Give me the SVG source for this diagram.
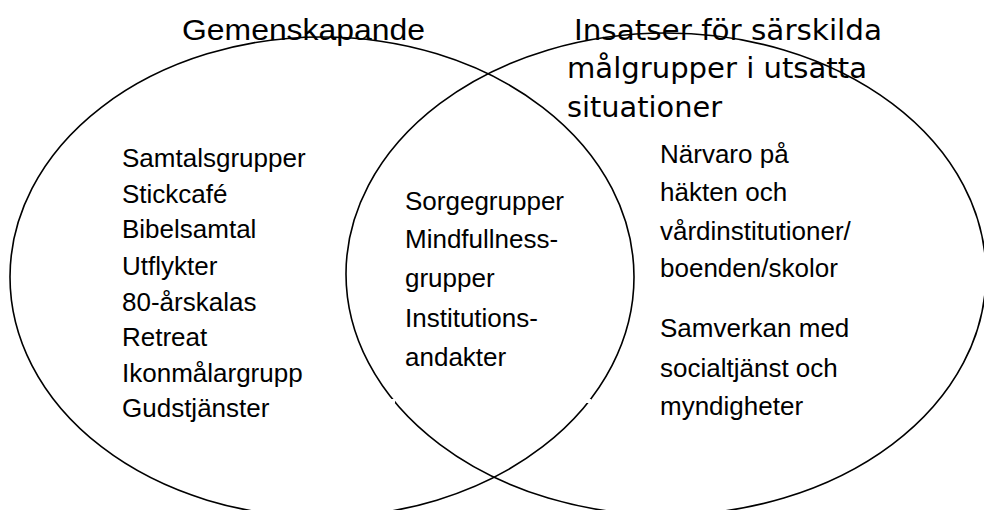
<svg xmlns="http://www.w3.org/2000/svg" width="984" height="510" viewBox="0 0 984 510">
<style>
.ring{fill:none;stroke:#000;stroke-width:1.6}
.t{font-family:"Liberation Sans",Arial,sans-serif;font-size:26px;fill:#000}
.h1{font-family:"Liberation Sans",Arial,sans-serif;font-size:30px;fill:#000}
.h2{font-family:"DejaVu Sans",Verdana,sans-serif;font-size:28px;fill:#000}
.gap{fill:#fff}
</style>
<rect width="984" height="510" fill="#fff"/>
<g id="connectors">
<ellipse id="left-circle" class="ring" cx="322" cy="277" rx="312" ry="240"/>
<ellipse id="right-circle" class="ring" cx="666" cy="274" rx="320" ry="241"/>
<rect class="gap" x="384" y="399" width="11" height="4"/>
<rect class="gap" x="583" y="399" width="8" height="4"/>
<rect class="gap" x="896" y="443" width="7" height="3"/>
</g>
<g id="title-left">
<text class="h1" x="182" y="40" textLength="243" lengthAdjust="spacingAndGlyphs">Gemenskapande</text>
</g>
<g id="title-right">
<text class="h2" x="574" y="40" textLength="308" lengthAdjust="spacingAndGlyphs">Insatser för särskilda</text>
<text class="h2" x="567" y="78" textLength="300" lengthAdjust="spacingAndGlyphs">målgrupper i utsatta</text>
<text class="h2" x="567" y="117" textLength="155" lengthAdjust="spacingAndGlyphs">situationer</text>
</g>
<g id="left-items">
<text class="t" x="122" y="167">Samtalsgrupper</text>
<text class="t" x="122" y="203">Stickcafé</text>
<text class="t" x="122" y="238">Bibelsamtal</text>
<text class="t" x="122" y="275">Utflykter</text>
<text class="t" x="122" y="311">80-årskalas</text>
<text class="t" x="122" y="346">Retreat</text>
<text class="t" x="122" y="382">Ikonmålargrupp</text>
<text class="t" x="122" y="417">Gudstjänster</text>
</g>
<g id="middle-items">
<text class="t" x="405" y="210">Sorgegrupper</text>
<text class="t" x="405" y="248">Mindfullness-</text>
<text class="t" x="405" y="287">grupper</text>
<text class="t" x="405" y="327">Institutions-</text>
<text class="t" x="405" y="366">andakter</text>
</g>
<g id="right-items">
<text class="t" x="660" y="163">Närvaro på</text>
<text class="t" x="660" y="201">häkten och</text>
<text class="t" x="660" y="240">vårdinstitutioner/</text>
<text class="t" x="660" y="277">boenden/skolor</text>
<text class="t" x="660" y="337">Samverkan med</text>
<text class="t" x="660" y="377">socialtjänst och</text>
<text class="t" x="660" y="415">myndigheter</text>
</g>
</svg>
